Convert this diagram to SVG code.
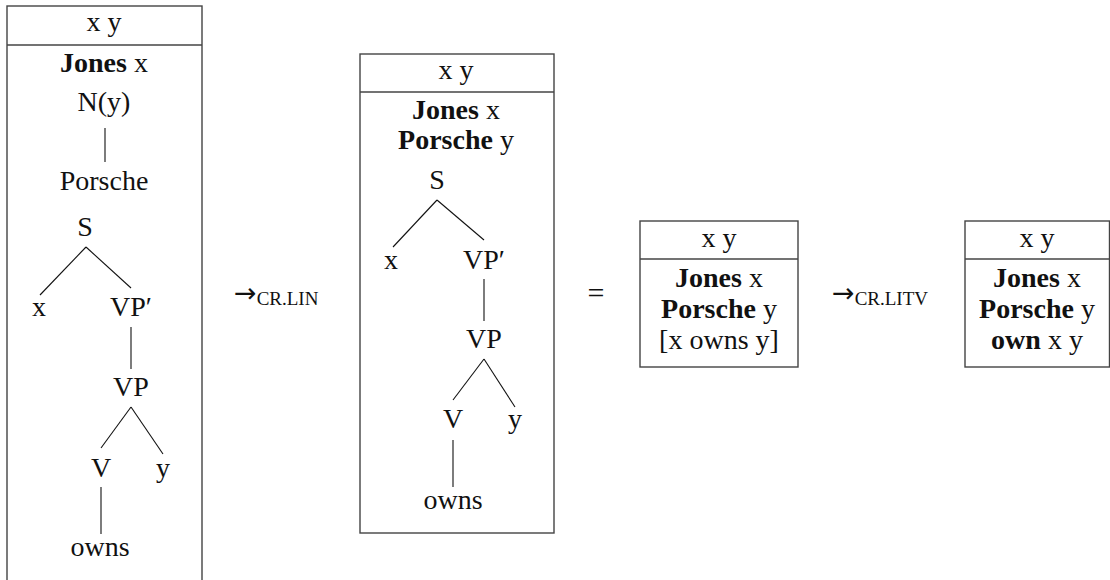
<svg xmlns="http://www.w3.org/2000/svg" width="1110" height="580" viewBox="0 0 1110 580">
<style>
  text { font-family: "Liberation Serif", "Times New Roman", serif; font-size: 28px; fill: #111; text-anchor: middle; }
  .b { font-weight: bold; }
  .box { fill: none; stroke: #444; stroke-width: 1.4; }
  .hdr { stroke: #444; stroke-width: 1.4; }
  .edge { stroke: #111; stroke-width: 1.1; fill: none; }
  .sub { font-family: "Liberation Serif", "Times New Roman", serif; font-size: 19px; }
  .arr { font-family: "DejaVu Sans", sans-serif; font-size: 27px; }
</style>
<rect width="1110" height="580" fill="#fff"/>

<g id="box1">
  <rect class="box" x="7" y="6" width="195" height="610"/>
  <line class="hdr" x1="7" y1="45" x2="202" y2="45"/>
  <text x="104" y="31">x y</text>
  <text x="104" y="72"><tspan class="b">Jones</tspan> x</text>
  <text x="104" y="111">N(y)</text>
  <text x="104" y="190">Porsche</text>
  <text x="85" y="236">S</text>
  <text x="39" y="316">x</text>
  <text x="131" y="316">VP′</text>
  <text x="131" y="396">VP</text>
  <text x="101" y="477">V</text>
  <text x="163" y="477">y</text>
  <text x="100" y="556">owns</text>
</g>

<g id="box2">
  <rect class="box" x="360" y="54" width="194" height="479"/>
  <line class="hdr" x1="360" y1="92" x2="554" y2="92"/>
  <text x="456" y="79">x y</text>
  <text x="456" y="119"><tspan class="b">Jones</tspan> x</text>
  <text x="456" y="149"><tspan class="b">Porsche</tspan> y</text>
  <text x="437" y="189">S</text>
  <text x="391" y="269">x</text>
  <text x="484" y="269">VP′</text>
  <text x="484" y="348">VP</text>
  <text x="453" y="428">V</text>
  <text x="515" y="428">y</text>
  <text x="453" y="509">owns</text>
</g>

<g id="box3">
  <rect class="box" x="640" y="221" width="158" height="146"/>
  <line class="hdr" x1="640" y1="259" x2="798" y2="259"/>
  <text x="719" y="247">x y</text>
  <text x="719" y="287"><tspan class="b">Jones</tspan> x</text>
  <text x="719" y="318"><tspan class="b">Porsche</tspan> y</text>
  <text x="719" y="349">[x owns y]</text>
</g>

<g id="box4">
  <rect class="box" x="965" y="221" width="144.5" height="146"/>
  <line class="hdr" x1="965" y1="259" x2="1109.5" y2="259"/>
  <text x="1037" y="247">x y</text>
  <text x="1037" y="287"><tspan class="b">Jones</tspan> x</text>
  <text x="1037" y="318"><tspan class="b">Porsche</tspan> y</text>
  <text x="1037" y="349"><tspan class="b">own</tspan> x y</text>
</g>

<g id="operators">
  <text x="234" y="302" style="text-anchor:start"><tspan class="arr">→</tspan><tspan class="sub" dy="3">CR.LIN</tspan></text>
  <text x="596" y="303" style="font-size:30px">=</text>
  <text x="832" y="302" style="text-anchor:start"><tspan class="arr">→</tspan><tspan class="sub" dy="3">CR.LITV</tspan></text>
</g>

<g id="connectors">
  <line class="edge" x1="105" y1="128" x2="105" y2="162"/>
  <line class="edge" x1="86" y1="247" x2="40" y2="295"/>
  <line class="edge" x1="86" y1="247" x2="131" y2="288"/>
  <line class="edge" x1="131" y1="327" x2="131" y2="369"/>
  <line class="edge" x1="131" y1="407" x2="101" y2="448"/>
  <line class="edge" x1="131" y1="407" x2="163" y2="454"/>
  <line class="edge" x1="101" y1="487" x2="101" y2="534"/>

  <line class="edge" x1="437" y1="200" x2="393" y2="247"/>
  <line class="edge" x1="437" y1="200" x2="484" y2="240"/>
  <line class="edge" x1="484" y1="279" x2="484" y2="321"/>
  <line class="edge" x1="484" y1="359" x2="453" y2="400"/>
  <line class="edge" x1="484" y1="359" x2="515" y2="407"/>
  <line class="edge" x1="453" y1="440" x2="453" y2="487"/>
</g>
</svg>
